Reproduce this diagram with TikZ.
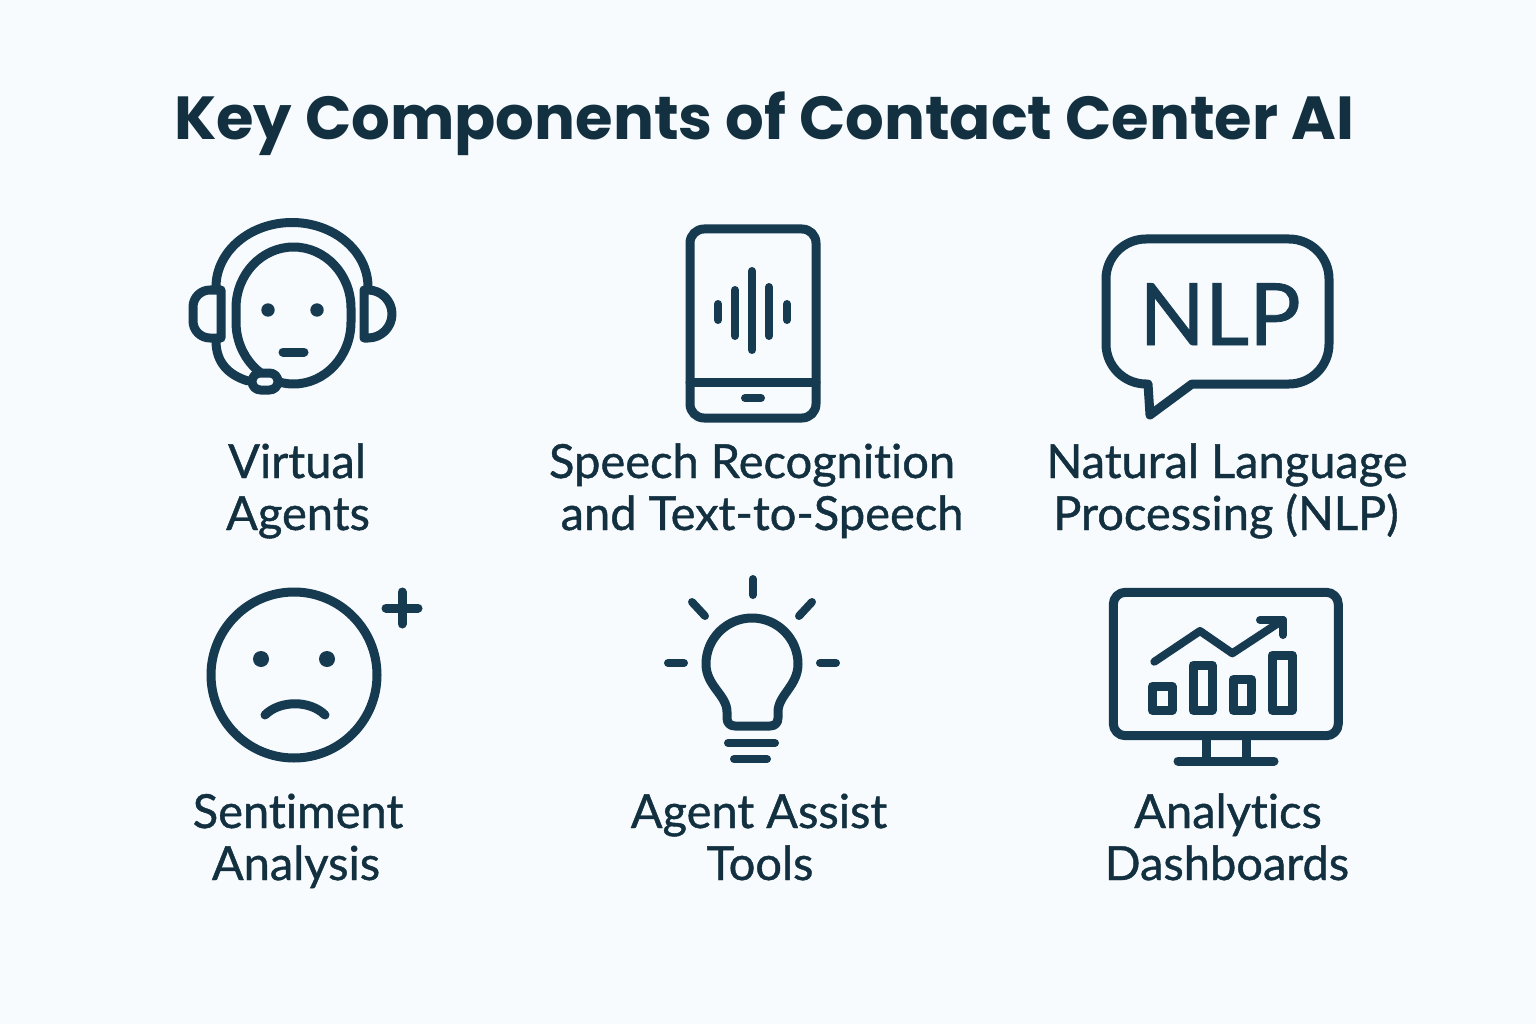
\documentclass[tikz,border=0pt]{standalone}
\usepackage{fontspec}
\setmainfont{Poppins}
\newfontfamily\labelfont[FakeBold=0.9,Ligatures=NoCommon]{Lato}
\definecolor{pagebg}{HTML}{F7FBFE}
\definecolor{ink}{HTML}{163A50}
\definecolor{titleink}{HTML}{12303F}
\tikzset{
    icon/.style={draw=ink, line width=9pt, line cap=round, line join=round},
    thin icon/.style={icon, line width=8pt},
    dot/.style={fill=ink, draw=none},
    label/.style={anchor=base, inner sep=0pt, text=titleink, font=\labelfont\fontsize{47}{47}\selectfont},
    heading/.style={anchor=base, inner sep=0pt, text=titleink, font=\bfseries\fontsize{60.8}{60.8}\selectfont}
}
\begin{document}
\begin{tikzpicture}[x=1pt, y=-1pt]
    \fill[pagebg] (0,0) rectangle (1536,1024);
    \useasboundingbox (0,0) rectangle (1536,1024);
    \node[heading] (title) at (764,140) {Key Components of Contact Center AI};

    \draw[icon] (216,287) arc[start angle=180, end angle=360, x radius=76, y radius=64.5];
    \draw[icon] (236,308) arc[start angle=180, end angle=360, x radius=57.5, y radius=61]
        -- (351,322) arc[start angle=0, end angle=180, x radius=57.5, y radius=62] -- cycle;
    \draw[icon] (221,290) -- (210,290) arc[start angle=270, end angle=180, radius=17]
        -- (193,321) arc[start angle=180, end angle=90, radius=17] -- (221,338) -- cycle;
    \draw[icon] (364,290) -- (368,290) arc[start angle=270, end angle=360, radius=24]
        arc[start angle=0, end angle=90, radius=24] -- (364,338) -- cycle;
    \draw[icon] (216,341) .. controls (216,362) and (228,375) .. (248,381);
    \draw[icon, fill=pagebg, rounded corners=8.5pt] (252,373) rectangle (278,390);
    \fill[dot] (268,310) circle (6.7);
    \fill[dot] (317,310) circle (6.7);
    \draw[icon] (283,352) -- (304,352);

    \draw[icon, rounded corners=14pt] (690,229) rectangle (816,418);
    \draw[icon] (690,382) -- (816,382);
    \draw[thin icon] (745,398) -- (761,398);
    \draw[thin icon] (718,304) -- (718,320);
    \draw[thin icon] (735,290) -- (735,336);
    \draw[thin icon] (752,271) -- (752,350);
    \draw[thin icon] (769,287) -- (769,336);
    \draw[thin icon] (787,304) -- (787,320);

    \draw[icon] (1148,384) -- (1146,384) arc[start angle=90, end angle=180, radius=40]
        -- (1106,279) arc[start angle=180, end angle=270, radius=40] -- (1289,239)
        arc[start angle=270, end angle=360, radius=40] -- (1329,344)
        arc[start angle=0, end angle=90, radius=40] -- (1192,384) -- (1150,415) -- cycle;
    \node[anchor=base, inner sep=0pt, text=ink, font=\labelfont\fontsize{86}{86}\selectfont] (nlp) at (1220,345) {NLP};

    \draw[icon] (294,675) circle (83);
    \fill[dot] (261,659) circle (8);
    \fill[dot] (327,659) circle (8);
    \draw[icon] (265,715) .. controls (280,700) and (310,700) .. (325,715);
    \draw[icon] (402,592) -- (402,624);
    \draw[icon] (386,608) -- (418,608);

    \draw[thin icon] (752.7,579) -- (752.7,595);
    \draw[thin icon] (692,602) -- (705,616);
    \draw[thin icon] (812,602) -- (799,616);
    \draw[thin icon] (668,663) -- (684,663);
    \draw[thin icon] (820,663) -- (836,663);
    \draw[icon] (706,664) arc[start angle=180, end angle=360, radius=46]
        .. controls (798,686) and (778,695) .. (778,712) -- (778,718)
        .. controls (778,723) and (775,726) .. (770,726) -- (735,726)
        .. controls (730,726) and (727,723) .. (727,718) -- (727,712)
        .. controls (727,695) and (706,686) .. (706,664) -- cycle;
    \draw[thin icon] (728,743) -- (775,743);
    \draw[thin icon] (734,759) -- (767,759);

    \draw[icon, rounded corners=12pt] (1113.3,592.3) rectangle (1338.3,735.7);
    \draw[icon] (1206,736) -- (1206,761);
    \draw[icon] (1246,736) -- (1246,761);
    \draw[icon] (1178,761) -- (1274,761);
    \draw[icon] (1152.3,686.3) rectangle (1172,710.3);
    \draw[icon] (1193,665) rectangle (1212,710.3);
    \draw[icon] (1233,679.7) rectangle (1251.7,710.3);
    \draw[icon] (1272.3,655) rectangle (1292,710.3);
    \draw[thin icon] (1154.3,661.7) -- (1200,631) -- (1232.3,653.3) -- (1283,620);
    \draw[thin icon] (1260,620) -- (1283,620) -- (1283,635);

    \node[label] (virtual) at (297,478) {Virtual};
    \node[label] (agents) at (298,530) {Agents};
    \node[label] (speech) at (752,478) {Speech Recognition};
    \node[label] (text) at (762,530) {and Text-to-Speech};
    \node[label] (natural) at (1227,478) {Natural Language};
    \node[label] (processing) at (1226,530) {Processing (NLP)};
    \node[label] (sentiment) at (298,828) {Sentiment};
    \node[label] (analysis) at (296,880) {Analysis};
    \node[label] (assist) at (759,828) {Agent Assist};
    \node[label] (tools) at (760,880) {Tools};
    \node[label] (analytics) at (1228,828) {Analytics};
    \node[label] (dashboards) at (1227,880) {Dashboards};
\end{tikzpicture}
\end{document}
